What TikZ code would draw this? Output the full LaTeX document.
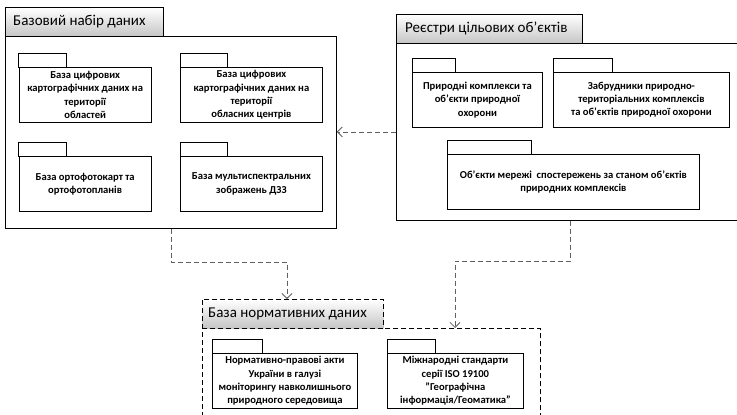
\documentclass[tikz,border=0pt]{standalone}
\usepackage{fontspec}
\setmainfont{Carlito}
\usetikzlibrary{arrows.meta,calc}
% inner package: #1 name, #2 x, #3 y (tab top), #4 tab width, #5 body width, #6 body height, #7 text
\newcommand\ipkg[7]{%
  \path[itab] (#2,#3) rectangle ++(#4,14) coordinate (#1c);
  \node[ibody, minimum width=#5pt, minimum height=#6pt] (#1) at (#2,#3+14) {#7};
}
\begin{document}
\begin{tikzpicture}[x=1pt,y=-1pt,
  otab/.style={draw, line width=0.8pt, top color=white, bottom color=gray!45,
    minimum height=29pt, inner sep=0pt, anchor=north west},
  tlabel/.style={anchor=west, inner sep=0pt, font=\fontsize{15}{17}\selectfont},
  obody/.style={draw, line width=0.8pt, anchor=north west, inner sep=0pt},
  dashbox/.style={dash pattern=on 5pt off 3pt},
  itab/.style={draw, line width=0.8pt},
  ibody/.style={draw, line width=0.8pt, anchor=north west, align=center, inner sep=2pt,
    font=\fontsize{10.6}{13.3}\selectfont\bfseries},
  conn/.style={draw=gray!75!black, line width=0.8pt, dash pattern=on 5pt off 3pt,
    -{Straight Barb[length=5pt,width=10pt]}},
]
\clip (0,0) rectangle (737,415);
\fill[white] (0,0) rectangle (737,415);

% ---- Базовий набір даних ----
\node[obody, minimum width=331pt, minimum height=192pt] (lbody) at (5,36) {};
\node[otab, minimum width=158pt] (ltab) at (5,7) {};
\node[tlabel] (ltitle) at ([xshift=8pt]ltab.west) {Базовий набір даних};
\ipkg{b1}{18.5}{53}{47.5}{132.5}{55}{База цифрових\\картографічних даних на\\території\\областей}
\ipkg{b2}{180}{53}{47}{142}{55}{База цифрових\\картографічних даних на\\території\\обласних центрів}
\ipkg{b3}{18.5}{142}{47.5}{132.5}{55}{База ортофотокарт та\\ортофотопланів}
\ipkg{b4}{180}{142}{47}{142}{55}{База мультиспектральних\\зображень ДЗЗ}

% ---- Реєстри цільових об'єктів ----
\node[obody, minimum width=348pt, minimum height=177pt] (rbody) at (396,43) {};
\node[otab, minimum width=186pt] (rtab) at (396,14) {};
\node[tlabel] (rtitle) at ([xshift=9pt]rtab.west) {Реєстри цільових об'єктів};
\ipkg{r1}{412}{58}{43}{130}{55}{Природні комплекси та\\об’єкти природної\\охорони}
\ipkg{r2}{553}{58}{59}{176}{55}{Забрудники природно-\\територіальних комплексів\\та об’єктів природної охорони}
\ipkg{r3}{447}{140}{84}{252}{55}{Об’єкти мережі\ \ спостережень за станом об’єктів\\природних комплексів}

% ---- База нормативних даних ----
\node[obody, dashbox, minimum width=338pt, minimum height=120pt] (bbody) at (202,328) {};
\node[otab, dashbox, minimum width=181pt] (btab) at (202,299) {};
\node[tlabel] (btitle) at ([xshift=6pt]btab.west) {База нормативних даних};
\ipkg{n1}{212}{339}{50}{145}{55}{Нормативно-правові акти\\України в галузі\\моніторингу навколишнього\\природного середовища}
\ipkg{n2}{387}{339}{48}{136}{55}{Міжнародні стандарти\\серії ISO 19100\\"Географічна\\інформація/Геоматика"}

% ---- connectors ----
\coordinate (j1) at (287,262);
\coordinate (j2) at (455,261);
\draw[conn] (rbody.west) -- (rbody.west -| lbody.east);
\draw[conn] (lbody.south) |- (j1) -- (j1 |- btab.north);
\draw[conn] (rbody.south) |- (j2) -- (j2 |- bbody.north);
\end{tikzpicture}
\end{document}
